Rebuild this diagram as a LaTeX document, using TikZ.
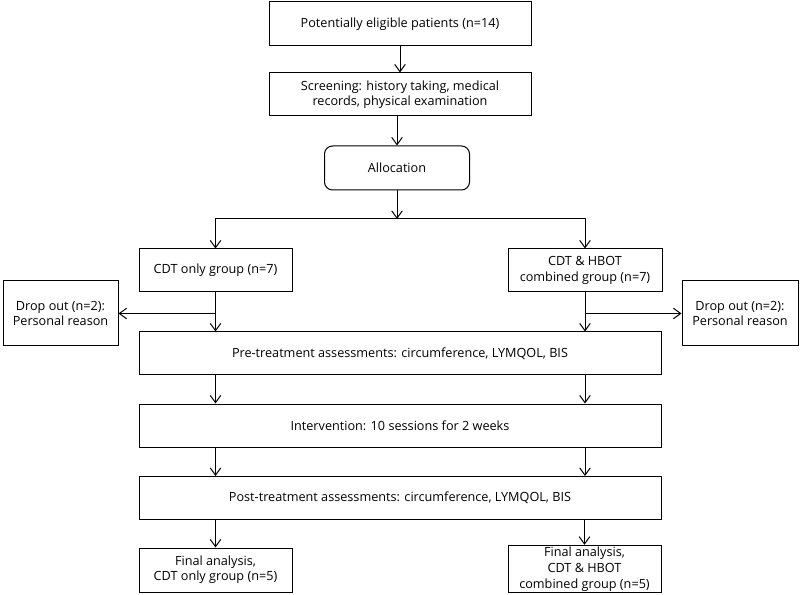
\documentclass[tikz,border=0pt]{standalone}
\usepackage{fontspec}
\setmainfont{Open Sans}
\usetikzlibrary{positioning,calc,arrows.meta}
\usepackage{xcolor}

\tikzset{
	box/.style={draw,line width=0.75pt,align=center,inner sep=1pt,
		font=\fontsize{9.5pt}{11.5pt}\selectfont},
	arr/.style={line width=0.75pt,-{Straight Barb[length=5.5pt,width=8pt,line width=0.75pt]}},
	ln/.style={line width=0.75pt}
}

\begin{document}
\begin{tikzpicture}[x=0.75pt,y=-0.75pt]
	\useasboundingbox (0,0) rectangle (800,595);
	\node[box,minimum width=196.5pt,minimum height=33pt] (elig) at (400,24)
	{Potentially eligible patients (n=14)};
	\node[box,minimum width=196.5pt,minimum height=32.25pt] (screen) at (400,94.5)
	{Screening: history taking, medical\\records, physical examination};
	\node[box,rounded corners=6pt,minimum width=108.75pt,minimum height=33pt] (alloc) at (397,168)
	{Allocation};
	\coordinate (split) at (397,219);
	\node[box,minimum width=114.75pt,minimum height=32.25pt] (cdt) at (215.5,270.5)
	{CDT only group (n=7)};
	\node[box,minimum width=115.5pt,minimum height=32.25pt] (hbot) at (585,270.5)
	{CDT \& HBOT\\combined group (n=7)};
	\node[box,minimum width=86.25pt,minimum height=48.75pt] (dropL) at (60.5,313.5)
	{Drop out (n=2):\\Personal reason};
	\node[box,minimum width=87pt,minimum height=48.75pt] (dropR) at (740,313.5)
	{Drop out (n=2):\\Personal reason};
	\node[box,minimum width=391.5pt,minimum height=32.25pt] (pre) at (400,353.5)
	{Pre-treatment assessments: circumference, LYMQOL, BIS};
	\node[box,minimum width=391.5pt,minimum height=32.25pt] (interv) at (400,425.5)
	{Intervention: 10 sessions for 2 weeks};
	\node[box,minimum width=391.5pt,minimum height=32.25pt] (post) at (400,498)
	{Post-treatment assessments: circumference, LYMQOL, BIS};
	\node[box,minimum width=114.75pt,minimum height=33pt] (finL) at (215.5,570)
	{Final analysis,\\CDT only group (n=5)};
	\node[box,minimum width=114.75pt,minimum height=33pt,
		font=\fontsize{9.5pt}{12pt}\selectfont] (finR) at (584.5,569)
	{Final analysis,\\CDT \& HBOT\\combined group (n=5)};

	\draw[arr] (elig) -- (screen);
	\draw[arr] (screen.south -| alloc) -- (alloc);
	\draw[arr] (alloc) -- (split);
	\draw[arr] (split) -| (cdt);
	\draw[arr] (split) -| (hbot);
	\draw[arr] (cdt) -- (pre.north -| cdt);
	\draw[arr] (hbot) -- (pre.north -| hbot);
	\draw[arr] (cdt.south |- dropL.east) -- (dropL);
	\draw[arr] (hbot.south |- dropR.west) -- (dropR);
	\draw[arr] (pre.south -| cdt) -- (interv.north -| cdt);
	\draw[arr] (pre.south -| hbot) -- (interv.north -| hbot);
	\draw[arr] (interv.south -| cdt) -- (post.north -| cdt);
	\draw[arr] (interv.south -| hbot) -- (post.north -| hbot);
	\draw[arr] (post.south -| finL) -- (finL);
	\draw[arr] (post.south -| finR) -- (finR);
\end{tikzpicture}
\end{document}
